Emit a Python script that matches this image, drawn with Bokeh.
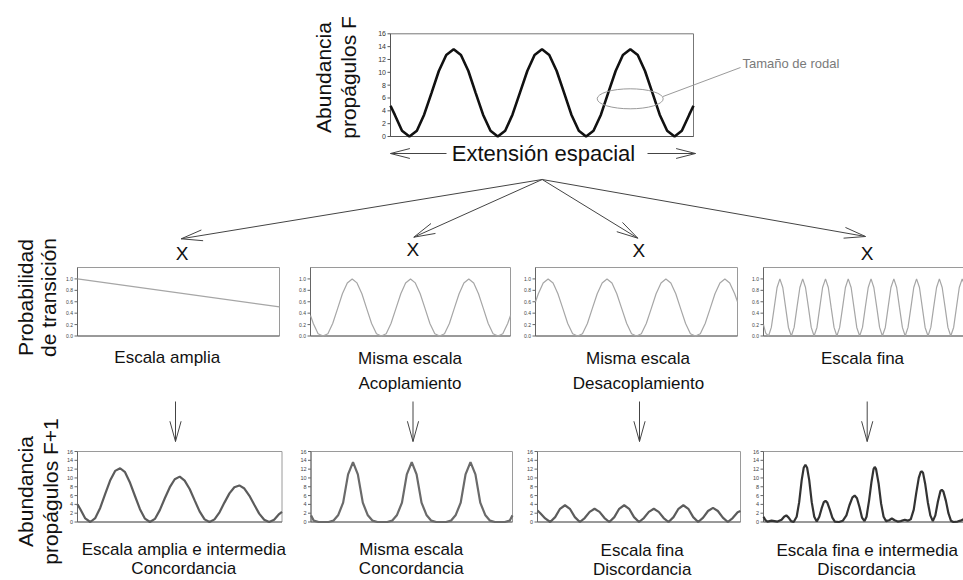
import math
from bokeh.plotting import figure
from bokeh.models import Range1d
from bokeh.core.properties import value
from bokeh.embed import file_html
from bokeh.resources import INLINE

# ------------------------------------------------------------------ data
# spatial position (arbitrary units, 0..200 across every panel)
X_A = [0, 2.8, 7.6, 12.5, 17.4, 22.2, 27.1, 31.9, 36.8, 41.7, 46.5, 51.4, 56.2, 61.1,
       66.0, 70.8, 75.7, 80.5, 85.4, 90.3, 95.1, 100.0, 104.8, 109.7, 114.6, 119.4,
       124.3, 129.1, 134.0, 138.9, 143.7, 148.6, 153.4, 158.3, 163.2, 168.0, 172.9,
       177.7, 182.6, 187.5, 192.3, 197.2, 200.0]

# propagule abundance, generation F
ABUND_F = [4.8, 3.4, 0.9, 0.0,
           0.9, 3.4, 6.8, 10.2, 12.7, 13.6, 12.7, 10.2, 6.8, 3.4, 0.9, 0.0,
           0.9, 3.4, 6.8, 10.2, 12.7, 13.6, 12.7, 10.2, 6.8, 3.4, 0.9, 0.0,
           0.9, 3.4, 6.8, 10.2, 12.7, 13.6, 12.7, 10.2, 6.8, 3.4, 0.9, 0.0,
           0.9, 3.4, 4.8]

# transition probability: broad scale (linear)
X_BROAD = [0, 200]
PROB_BROAD = [1.0, 0.51]

# transition probability: same scale, coupled
PROB_COUPLED = [0.36, 0.22, 0.04, 0.0,
                0.04, 0.22, 0.48, 0.74, 0.93, 1.0, 0.93, 0.74, 0.48, 0.22, 0.04, 0.0,
                0.04, 0.22, 0.48, 0.74, 0.93, 1.0, 0.93, 0.74, 0.48, 0.22, 0.04, 0.0,
                0.04, 0.22, 0.48, 0.74, 0.93, 1.0, 0.93, 0.74, 0.48, 0.22, 0.04, 0.0,
                0.04, 0.22, 0.36]

# transition probability: same scale, decoupled
PROB_DECOUPLED = [0.6, 0.74, 0.93, 1.0,
                  0.93, 0.74, 0.48, 0.22, 0.04, 0.0, 0.04, 0.22, 0.48, 0.74, 0.93, 1.0,
                  0.93, 0.74, 0.48, 0.22, 0.04, 0.0, 0.04, 0.22, 0.48, 0.74, 0.93, 1.0,
                  0.93, 0.74, 0.48, 0.22, 0.04, 0.0, 0.04, 0.22, 0.48, 0.74, 0.93, 1.0,
                  0.93, 0.74, 0.6]

# fine-scale position grid
X_FINE = [0, 2.2, 5.0, 7.8, 10.7, 13.5, 16.3, 19.2, 22.0, 24.8, 27.7, 30.5, 33.3, 36.2,
          39.0, 41.8, 44.7, 47.5, 50.3, 53.2, 56.0, 58.8, 61.7, 64.5, 67.3, 70.2, 73.0,
          75.8, 78.7, 81.5, 84.3, 87.2, 90.0, 92.8, 95.7, 98.5, 101.3, 104.2, 107.0,
          109.8, 112.7, 115.5, 118.3, 121.2, 124.0, 126.8, 129.7, 132.5, 135.3, 138.2,
          141.0, 143.8, 146.7, 149.5, 152.3, 155.2, 158.0, 160.8, 163.7, 166.5, 169.3,
          172.2, 175.0, 177.8, 180.7, 183.5, 186.3, 189.2, 192.0, 194.8, 197.7, 200.0]

# transition probability: fine scale
PROB_FINE = [0.2, 0.05,
             0.0, 0.15, 0.5, 0.85, 1.0, 0.85, 0.5, 0.15,
             0.0, 0.15, 0.5, 0.85, 1.0, 0.85, 0.5, 0.15,
             0.0, 0.15, 0.5, 0.85, 1.0, 0.85, 0.5, 0.15,
             0.0, 0.15, 0.5, 0.85, 1.0, 0.85, 0.5, 0.15,
             0.0, 0.15, 0.5, 0.85, 1.0, 0.85, 0.5, 0.15,
             0.0, 0.15, 0.5, 0.85, 1.0, 0.85, 0.5, 0.15,
             0.0, 0.15, 0.5, 0.85, 1.0, 0.85, 0.5, 0.15,
             0.0, 0.15, 0.5, 0.85, 1.0, 0.85, 0.5, 0.15,
             0.0, 0.15, 0.5, 0.85, 1.0, 0.9]

# propagule abundance, generation F+1
ABUND_BROAD = [4.0, 2.9, 0.8, 0.0,
               0.9, 3.2, 6.4, 9.4, 11.6, 12.2, 11.3, 8.9, 5.9, 2.9, 0.75, 0.0,
               0.7, 2.7, 5.4, 7.9, 9.7, 10.3, 9.4, 7.5, 4.9, 2.4, 0.6, 0.0,
               0.6, 2.2, 4.4, 6.5, 7.9, 8.3, 7.6, 6.0, 3.9, 1.9, 0.5, 0.0,
               0.5, 1.8, 2.3]

ABUND_COUPLED = [1.5, 0.3, 0.0, 0.0,
                 0.0, 0.3, 1.6, 4.4, 10.8, 13.6, 10.8, 4.4, 1.6, 0.3, 0.0, 0.0,
                 0.0, 0.3, 1.6, 4.4, 10.8, 13.6, 10.8, 4.4, 1.6, 0.3, 0.0, 0.0,
                 0.0, 0.3, 1.6, 4.4, 10.8, 13.6, 10.8, 4.4, 1.6, 0.3, 0.0, 0.0,
                 0.0, 0.3, 1.5]

ABUND_DECOUPLED = [2.6, 2.0, 0.8, 0.0,
                   1.1, 3.0, 3.8, 3.0, 1.1, 0.0, 0.9, 2.3, 3.0, 2.3, 0.9, 0.0,
                   1.1, 3.0, 3.8, 3.0, 1.1, 0.0, 0.9, 2.3, 3.0, 2.3, 0.9, 0.0,
                   1.1, 3.0, 3.8, 3.0, 1.1, 0.0, 1.0, 2.5, 3.2, 2.5, 1.0, 0.0,
                   0.9, 2.2, 2.5]

X_FINE_ABUND = [0, 2, 4, 8, 11, 14, 18, 20.5, 22.7, 25, 27.5, 30, 33, 35.5, 38, 40, 41.7,
                43.4, 45.5, 48, 50.5, 53, 55.5, 58, 60, 61.7, 63.5, 66, 68.5, 71, 75, 79,
                82.5, 85.5, 88.5, 90.7, 93, 95.5, 98, 100.5, 102.5, 105, 107.5, 109.5,
                110.7, 112, 114.5, 117, 119.5, 122, 125, 127.7, 130.5, 133.5, 136.5, 140.5,
                143.5, 146.5, 149.5, 152, 154.5, 156.3, 157.4, 158.7, 161, 163.5, 166,
                168.5, 171, 173.5, 176, 177.4, 179, 181.5, 184, 186.5, 189, 193, 196, 200]
ABUND_FINE = [1.2, 0.4, 0.1, 0.3, 0.2, 0.1, 0.5, 1.2, 1.5, 1.0, 0.2, 0.0, 1.2, 4.5, 9.5,
              12.3, 13.0, 12.3, 9.5, 4.5, 1.2, 0.1, 1.2, 3.2, 4.5, 4.8, 4.4, 2.8, 1.0, 0.1,
              0.0, 0.3, 1.5, 3.8, 5.6, 6.0, 5.4, 3.4, 1.0, 0.2, 1.2, 4.8, 9.2, 12.0, 12.5,
              12.0, 8.8, 4.2, 1.2, 0.2, 0.4, 0.8, 0.4, 0.1, 0.2, 0.5, 0.3, 0.6, 2.8, 6.6,
              10.0, 11.3, 11.5, 11.2, 8.5, 4.5, 1.5, 0.2, 1.5, 4.6, 7.0, 7.3, 6.9, 4.8, 2.0,
              0.3, 0.0, 0.1, 0.3, 0.7]

ABUND_TICKS = [0, 2, 4, 6, 8, 10, 12, 14, 16]
ABUND_TICK_LABELS = ["0", "2", "4", "6", "8", "10", "12", "14", "16"]
PROB_TICKS = [0.0, 0.2, 0.4, 0.6, 0.8, 1.0]
PROB_TICK_LABELS = ["0.0", "0.2", "0.4", "0.6", "0.8", "1.0"]

XMAX = 200
FONT = value("Liberation Sans")

# ------------------------------------------------------------------ canvas
# The page template places the plot at the window's top-left corner,
# so the canvas spans the whole 963x580 window (1 unit = 1 px).
p = figure(width=963, height=580, x_range=Range1d(0, 963), y_range=Range1d(580, 0),
           x_axis_type=None, y_axis_type=None, output_backend="svg",
           toolbar_location=None, min_border=0, outline_line_color=None)
p.background_fill_color = "white"
p.border_fill_color = "white"


def panel(box, ymax, ticks, labels, fs, frame_color="#9a9a9a", axis_color="#666666",
          label_color="#444444"):
    left, right, bottom, top = box
    sp = p.subplot(x_source=Range1d(0, XMAX), y_source=Range1d(0, ymax),
                   x_target=Range1d(left, right), y_target=Range1d(bottom, top))
    ppu = (right - left) / XMAX
    sp.quad(left=[0], right=[XMAX], bottom=[0], top=[ymax], fill_color=None,
            line_color=frame_color, line_width=1)
    sp.segment(x0=[0, 0], y0=[0, 0], x1=[0, XMAX], y1=[ymax, 0],
               line_color=axis_color, line_width=1)
    tl = 3 / ppu
    n = len(ticks)
    sp.segment(x0=[-tl] * n, y0=ticks, x1=[0] * n, y1=ticks, line_color=axis_color,
               line_width=1)
    sp.text(x=[-tl - 1.5 / ppu] * n, y=ticks, text=labels,
            text_font=FONT, text_font_size=f"{fs}px", text_align="right",
            text_baseline="middle", text_color=label_color)
    return sp


def texts(xs, ys, strs, size, rotated=False, color="#111111", align="center"):
    """xs, ys: centre of the text line (canvas px)."""
    p.text(x=xs, y=ys, text=strs, angle=(math.pi / 2 if rotated else 0.0),
           text_font=FONT, text_font_size=f"{size}px", text_align=align,
           text_baseline="middle", text_color=color)


def arrow(x0, y0, x1, y1, head=22, spread=0.25, color="#444444"):
    ang = math.atan2(y0 - y1, x0 - x1)
    hx = [x1 + head * math.cos(ang + spread), x1, x1 + head * math.cos(ang - spread)]
    hy = [y1 + head * math.sin(ang + spread), y1, y1 + head * math.sin(ang - spread)]
    p.multi_line(xs=[[x0, x1], hx], ys=[[y0, y1], hy], line_color=color, line_width=1)


# ------------------------------------------------------------------ top panel
top = panel((390, 693, 136, 33.3), 16, ABUND_TICKS, ABUND_TICK_LABELS, 7,
            frame_color="#777777", axis_color="#555555", label_color="#333333")
top.line(X_A, ABUND_F, line_color="#111111", line_width=2.6)

texts([323, 348], [77, 77], ["Abundancia", "propágulos F"], 21, rotated=True)
texts([543], [153], ["Extensión espacial"], 22)
arrow(446, 153, 390, 153, head=20, spread=0.25)
arrow(647, 153, 695, 153, head=20, spread=0.25)

p.ellipse(x=[629.7], y=[98.3], width=[66], height=[20], fill_color=None,
          line_color="#9a9a9a", line_width=1)
p.segment(x0=[662.5], y0=[96], x1=[740], y1=[67], line_color="#9a9a9a", line_width=1)
texts([742], [63], ["Tamaño de rodal"], 13, color="#7a7a7a", align="left")

# fan of arrows
for tx, ty in [(180.7, 238.3), (413.3, 236.7), (637.3, 237.7), (865.0, 236.0)]:
    arrow(541.7, 179, tx, ty, head=22, spread=0.25)
texts([181.7, 412.3, 638.3, 866.7], [253, 249, 249.5, 253], ["X", "X", "X", "X"], 19)

# ------------------------------------------------------------------ middle row
texts([25, 48], [297, 297], ["Probabilidad", "de transición"], 21, rotated=True)

MID_Y = (335.5, 267)
mid_boxes = [(77, 279), (310, 510), (535, 737), (763, 964)]
mids = [panel((l, r) + MID_Y, 1.2, PROB_TICKS, PROB_TICK_LABELS, 5)
        for l, r in mid_boxes]
mid_col = "#a6a6a6"
mids[0].line(X_BROAD, PROB_BROAD, line_color=mid_col, line_width=1.2)
mids[1].line(X_A, PROB_COUPLED, line_color=mid_col, line_width=1.2)
mids[2].line(X_A, PROB_DECOUPLED, line_color=mid_col, line_width=1.2)
mids[3].line(X_FINE, PROB_FINE, line_color=mid_col, line_width=1.2)

texts([166.7, 409.5, 637.5, 862], [357, 358, 358, 358],
      ["Escala amplia", "Misma escala", "Misma escala", "Escala fina"], 17)
texts([409.5, 638], [383, 383], ["Acoplamiento", "Desacoplamiento"], 17)

# down arrows
for ax in [175, 412.5, 639, 866.7]:
    arrow(ax, 401, ax, 441, head=21, spread=0.27)

# ------------------------------------------------------------------ bottom row
texts([25, 50], [491, 491], ["Abundancia", "propágulos F+1"], 21, rotated=True)

BOT_Y = (521.5, 451)
bot_boxes = [(77, 281.5), (310.5, 512), (537, 740), (763, 964)]
bots = [panel((l, r) + BOT_Y, 16, ABUND_TICKS, ABUND_TICK_LABELS, 5.5)
        for l, r in bot_boxes]
bots[0].line(X_A, ABUND_BROAD, line_color="#5c5c5c", line_width=2.2)
bots[1].line(X_A, ABUND_COUPLED, line_color="#6a6a6a", line_width=2.2)
bots[2].line(X_A, ABUND_DECOUPLED, line_color="#5c5c5c", line_width=2.2)
bots[3].line(X_FINE_ABUND, ABUND_FINE, line_color="#333333", line_width=2.2)

texts([183.3, 410.8, 641.7, 866.7], [549, 549, 550, 550],
      ["Escala amplia e intermedia", "Misma escala", "Escala fina",
       "Escala fina e intermedia"], 17)
texts([183.3, 410.8, 641.7, 866], [568, 568, 569, 569],
      ["Concordancia", "Concordancia", "Discordancia", "Discordancia"], 17)

open("out.html", "w").write(file_html(p, INLINE))
